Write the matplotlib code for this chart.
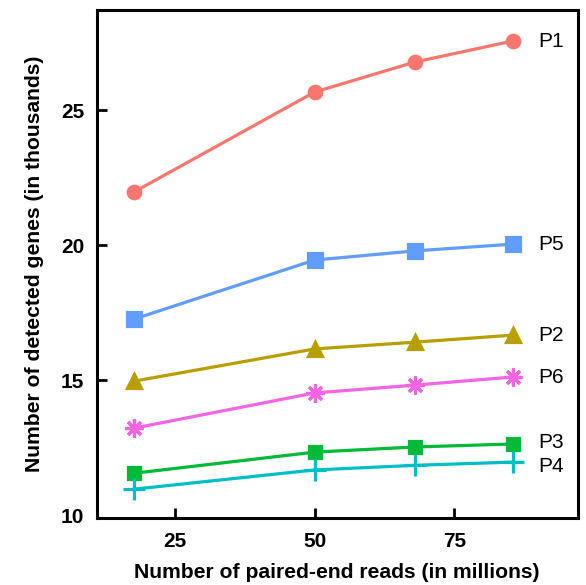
import matplotlib
matplotlib.use('Agg')
import matplotlib.pyplot as plt

plt.rcParams['font.family'] = ['Liberation Sans', 'DejaVu Sans']

# Reads (millions) and detected genes (thousands)
reads = [17.8, 50, 67.9, 85.4]

names = ['P1', 'P5', 'P2', 'P6', 'P3', 'P4']
genes = {
    'P1': [21.98, 25.67, 26.78, 27.56],
    'P5': [17.27, 19.45, 19.79, 20.04],
    'P2': [14.97, 16.16, 16.41, 16.67],
    'P6': [13.23, 14.53, 14.82, 15.12],
    'P3': [11.56, 12.34, 12.53, 12.64],
    'P4': [10.97, 11.68, 11.85, 11.97],
}
colors = {'P1': '#F8766D', 'P5': '#619CFF', 'P2': '#B79F00',
          'P6': '#F564E3', 'P3': '#00BA38', 'P4': '#00BFC4'}
markers = {'P1': 'o', 'P5': 's', 'P2': '^', 'P6': (8, 2, 0), 'P3': 's', 'P4': '+'}
msizes = {'P1': 9, 'P5': 10.5, 'P2': 10, 'P6': 13, 'P3': 8.5, 'P4': 16}
label_nudge = {'P1': 0, 'P5': 0, 'P2': 0, 'P6': 0, 'P3': 0.05, 'P4': -0.15}

fig = plt.figure(figsize=(5.86, 5.85), dpi=100)
ax = fig.add_axes([0.1655, 0.1145, 0.82, 0.868])

for name in names:
    c = colors[name]
    ax.plot(reads, genes[name], color=c, lw=2.3, marker=markers[name],
            ms=msizes[name], mfc=c, mec=c, mew=2.3)
    ax.text(reads[-1] + 4.5, genes[name][-1] + label_nudge[name], name,
            fontsize=15, va='center', ha='left')

ax.set_xlim(11.1, 97)
ax.set_ylim(9.9, 28.7)
ax.set_xticks([25, 50, 75])
ax.set_yticks([10, 15, 20, 25])
ax.tick_params(direction='in', length=7, width=2, labelsize=15, pad=9)
ax.tick_params(axis='x', pad=10)
# no tick mark at 10, only the label at the corner
ax.yaxis.get_major_ticks()[0].tick1line.set_visible(False)
for lab in ax.get_xticklabels() + ax.get_yticklabels():
    lab.set_fontweight('bold')
for sp in ax.spines.values():
    sp.set_linewidth(2.2)

ax.set_xlabel('Number of paired-end reads (in millions)', fontsize=15.2,
              fontweight='bold', labelpad=9)
ax.set_ylabel('Number of detected genes (in thousands)', fontsize=15.2,
              fontweight='bold', labelpad=12)

fig.savefig('out.png', dpi=100)
